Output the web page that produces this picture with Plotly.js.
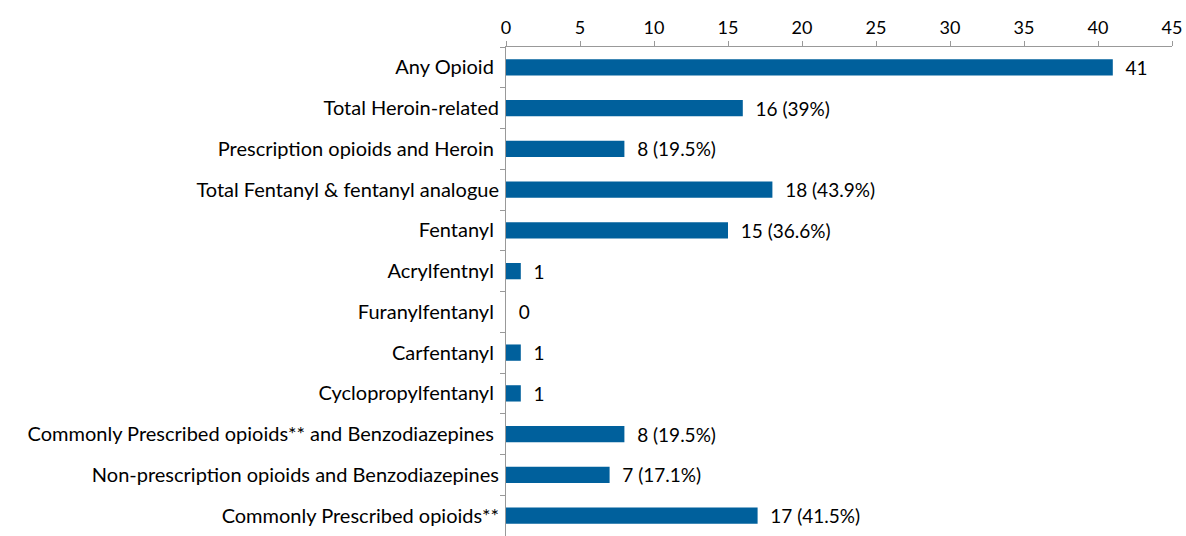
<!DOCTYPE html>
<html>
<head>
<meta charset="utf-8">
<script src="https://cdn.plot.ly/plotly-3.0.1.min.js"></script>
<style>
  html, body { margin: 0; padding: 0; background: #fff; }
  #chart { width: 1186px; height: 536px; }
</style>
</head>
<body>
<div id="chart"></div>
<script>
// trailing non-breaking spaces as in the source labels
var categories = [
  'Any Opioid\u00a0',
  'Total Heroin-related',
  'Prescription opioids and Heroin\u00a0',
  'Total Fentanyl &amp; fentanyl analogue',
  'Fentanyl\u00a0',
  'Acrylfentnyl\u00a0',
  'Furanylfentanyl\u00a0',
  'Carfentanyl\u00a0',
  'Cyclopropylfentanyl\u00a0',
  'Commonly Prescribed opioids** and Benzodiazepines\u00a0',
  'Non-prescription opioids and Benzodiazepines',
  'Commonly Prescribed opioids**'
];
var counts = [41, 16, 8, 18, 15, 1, 0, 1, 1, 8, 7, 17];
var labels = ['41', '16 (39%)', '8 (19.5%)', '18 (43.9%)', '15 (36.6%)', '1', '0', '1', '1',
              '8 (19.5%)', '7 (17.1%)', '17 (41.5%)'];

var barColor = '#00609c';

var trace = {
  type: 'bar',
  orientation: 'h',
  y: categories,
  x: counts,
  text: labels,
  texttemplate: '\u00a0\u00a0%{text}',
  textposition: 'outside',
  constraintext: 'none',
  cliponaxis: false,
  textfont: { size: 19, color: '#000' },
  marker: { color: barColor },
  width: 0.4,
  hoverinfo: 'none'
};

var layout = {
  width: 1186,
  height: 536,
  margin: { l: 506, r: 14, t: 47, b: 0 },
  font: { family: 'Lato, "Open Sans", sans-serif', size: 19, color: '#000' },
  showlegend: false,
  plot_bgcolor: '#fff',
  paper_bgcolor: '#fff',
  xaxis: {
    side: 'top',
    range: [0, 45],
    dtick: 5,
    showgrid: false,
    zeroline: false,
    showline: true,
    linecolor: '#999',
    linewidth: 1,
    ticks: 'outside',
    ticklen: 5,
    tickcolor: '#999',
    tickfont: { size: 18 }
  },
  yaxis: {
    autorange: 'reversed',
    showgrid: false,
    zeroline: false,
    showline: true,
    linecolor: '#999',
    linewidth: 1,
    ticks: 'outside',
    tickson: 'boundaries',
    ticklen: 5,
    tickcolor: '#999',
    ticklabelstandoff: 2,
    tickfont: { size: 20 }
  }
};

Plotly.newPlot('chart', [trace], layout, { displayModeBar: false, staticPlot: true });
</script>
</body>
</html>
